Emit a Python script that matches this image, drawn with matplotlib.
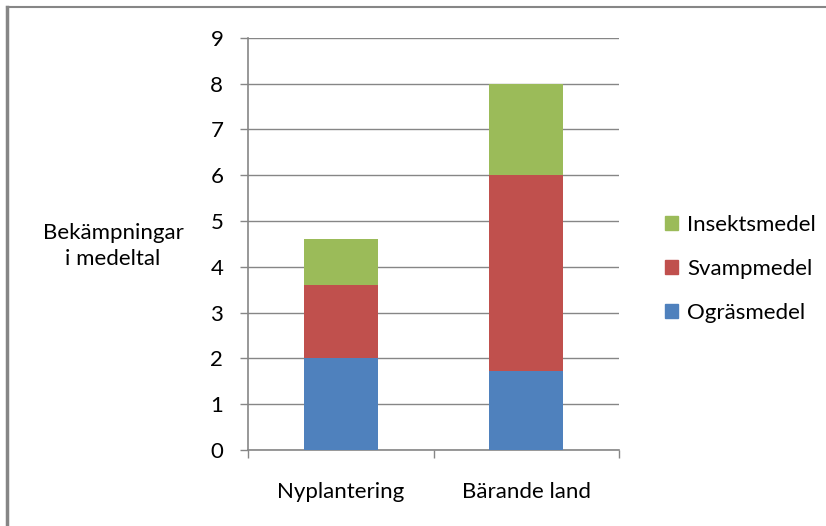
import matplotlib.pyplot as plt
from matplotlib.lines import Line2D
from matplotlib.patches import Patch

categories = ['Nyplantering', 'Bärande land']
ograsmedel = [2.0, 1.73]
svampmedel = [1.6, 4.27]
insektsmedel = [1.0, 2.0]
series_names = ['Ogräsmedel', 'Svampmedel', 'Insektsmedel']
colors = ['#4F81BD', '#C0504D', '#9BBB59']
yticks = list(range(0, 10))

plt.rcParams['font.family'] = ['Lato', 'DejaVu Sans']
grid_col = '#868686'
fs = 16

fig = plt.figure(figsize=(8.26, 5.26), dpi=100)
ax = fig.add_axes([248 / 826, 76 / 526, 371 / 826, 412.3 / 526])

x = list(range(len(categories)))
bottom = [0.0, 0.0]
for vals, col in zip([ograsmedel, svampmedel, insektsmedel], colors):
    ax.bar(x, vals, width=0.4, bottom=bottom, color=col, zorder=3)
    bottom = [b + v for b, v in zip(bottom, vals)]

ax.set_xlim(-0.5, 1.5)
ax.set_ylim(0, 9)
ax.set_yticks(yticks)
ax.yaxis.grid(True, color=grid_col, linewidth=1)
ax.set_axisbelow(True)
for s in ['top', 'right']:
    ax.spines[s].set_visible(False)
for s in ['left', 'bottom']:
    ax.spines[s].set_color(grid_col)
    ax.spines[s].set_linewidth(1.2)

ax.set_xticks(x)
ax.set_xticklabels(categories)
ax.set_xticks([-0.5, 0.5, 1.5], minor=True)
ax.tick_params(axis='x', which='major', length=0, pad=23, labelsize=fs)
ax.tick_params(axis='x', which='minor', length=5.8, color=grid_col, width=1)
ax.tick_params(axis='y', length=5.8, color=grid_col, width=1, pad=12, labelsize=fs)

fig.text(113 / 826, 1 - 246 / 526, 'Bekämpningar\ni medeltal', ha='center', va='center',
         fontsize=fs, linespacing=1.35)

handles = [Patch(color=c) for c in colors][::-1]
fig.legend(handles, series_names[::-1], loc='center left',
           bbox_to_anchor=(645 / 826, 1 - 269 / 526), frameon=False, fontsize=fs,
           handlelength=0.6, handleheight=0.6, handletextpad=0.4, labelspacing=1.07)

# outer frame (top and left edges only)
fig.add_artist(Line2D([7 / 826, 1], [1 - 7 / 526, 1 - 7 / 526], color=grid_col, linewidth=1.5))
fig.add_artist(Line2D([7 / 826, 7 / 826], [0, 1 - 7 / 526], color=grid_col, linewidth=2.5))

fig.savefig('out.png', dpi=100)
